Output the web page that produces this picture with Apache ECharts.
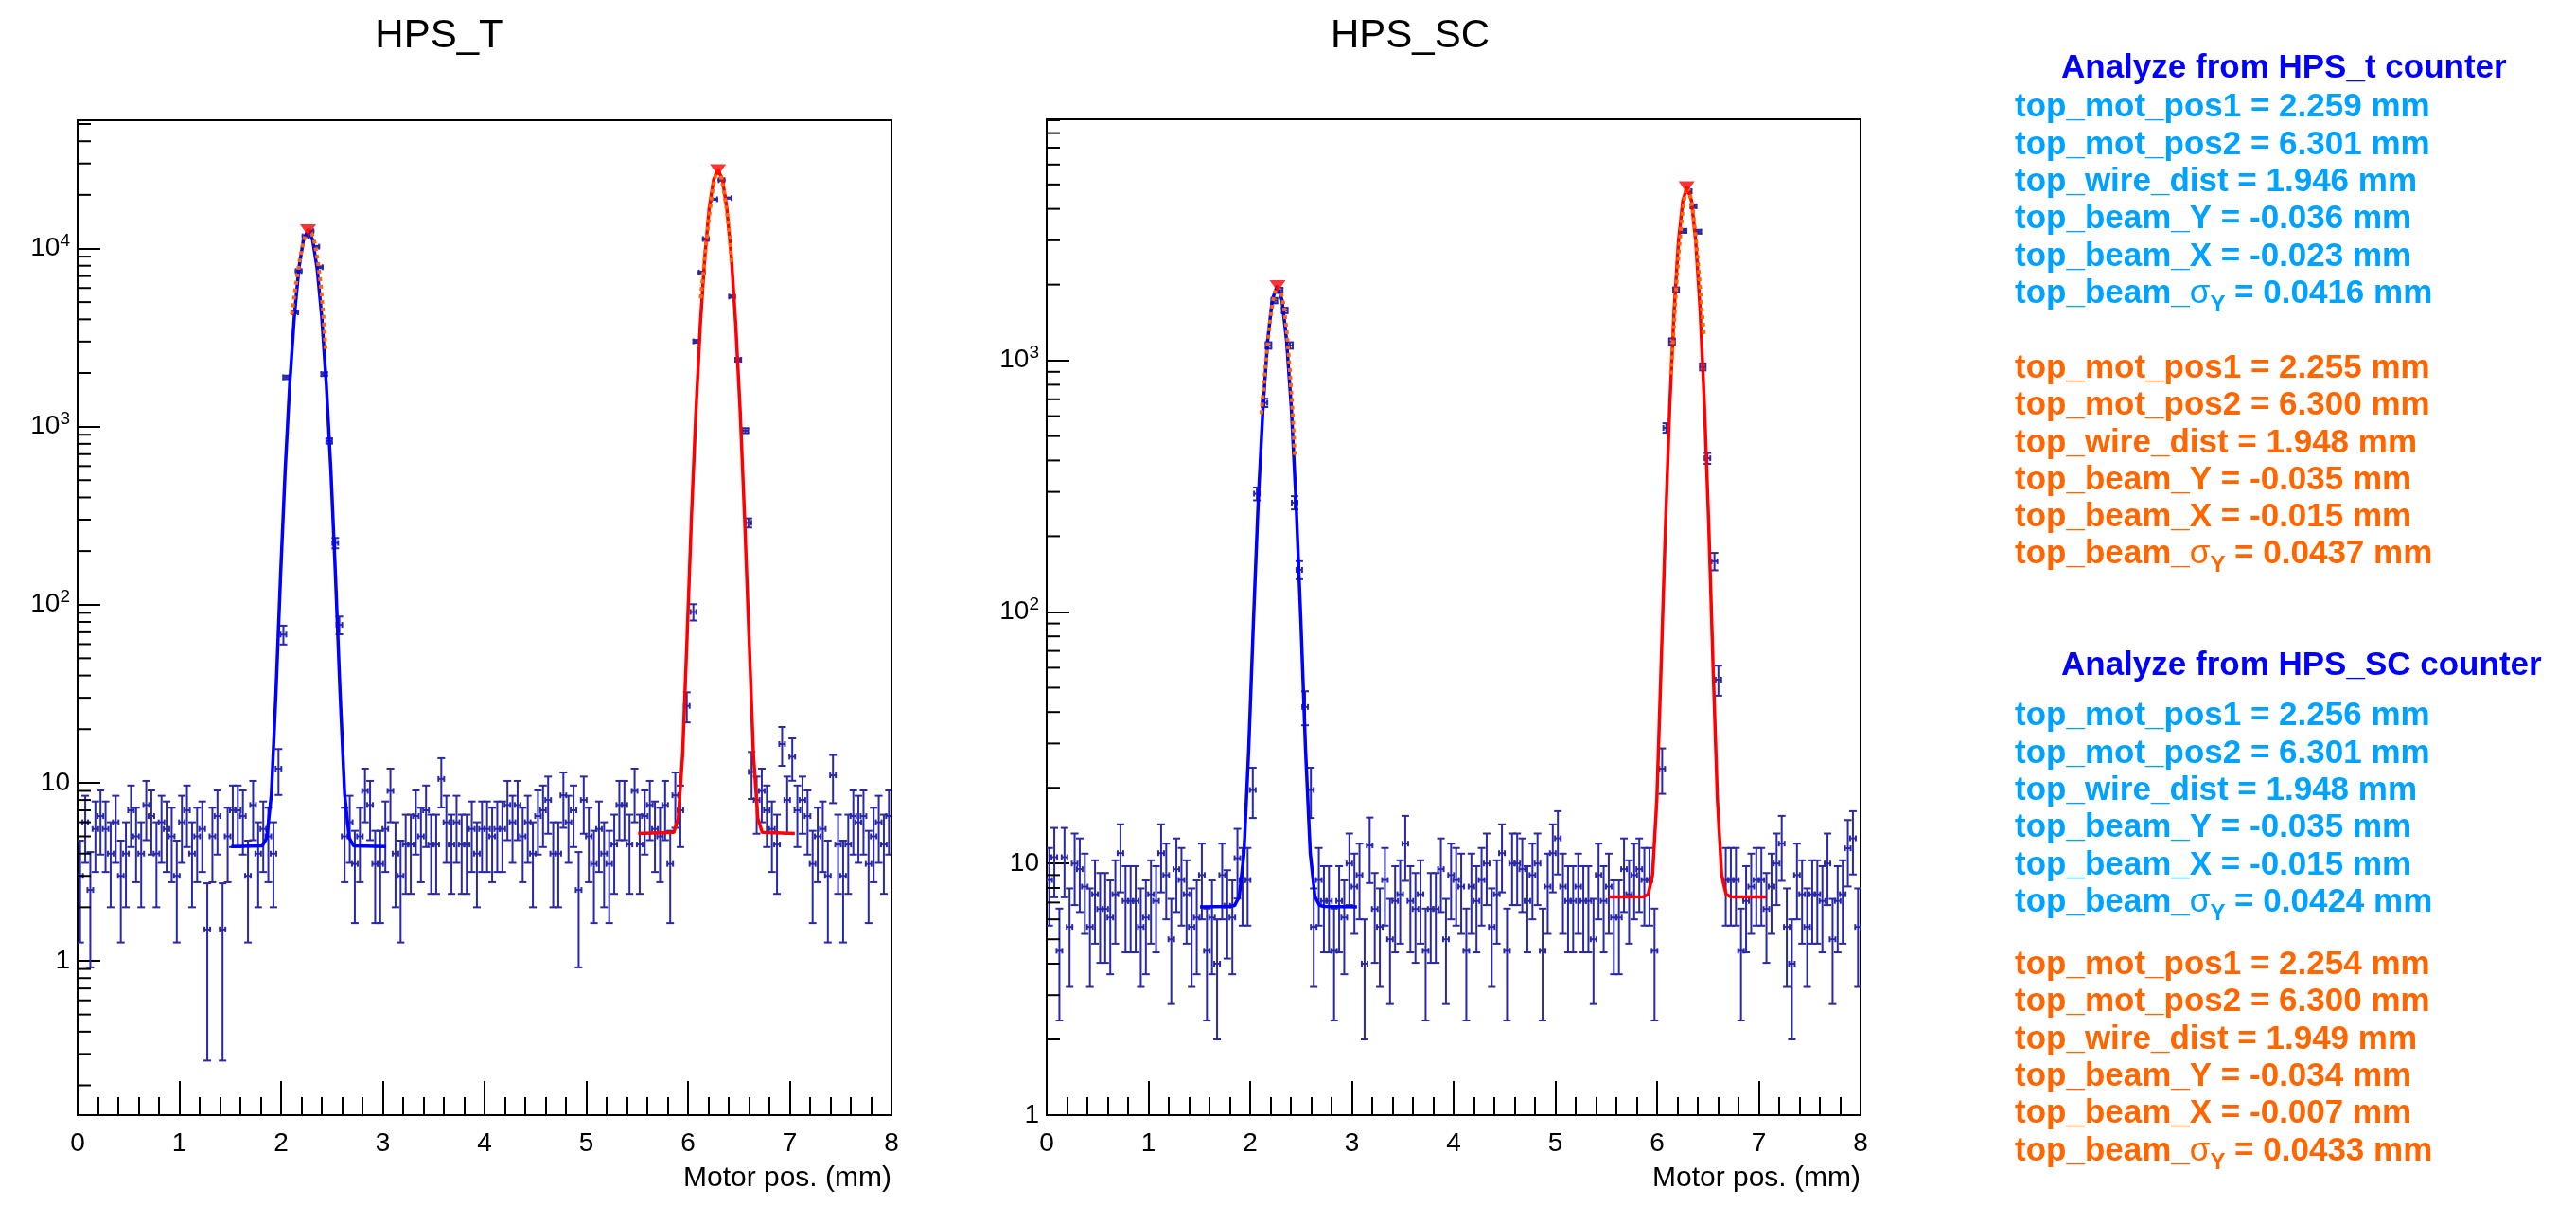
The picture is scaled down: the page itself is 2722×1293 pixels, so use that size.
<!DOCTYPE html>
<html>
<head>
<meta charset="utf-8">
<title>HPS wire scan</title>
<script src="https://cdn.jsdelivr.net/npm/echarts@6.0.0/dist/echarts.min.js"></script>
<style>
  html, body { margin: 0; padding: 0; background: #fff; }
  #main { width: 2722px; height: 1293px; }
</style>
</head>
<body>
<div id="main"></div>
<script>
// scan bins: centres start at 0.025 mm, 0.05 mm apart
const BIN0 = 0.025;
const BINW = 0.05;

// ---- HPS_T counter ----
// background bins (null where the peak points below take over)
const tCounts = [
  3, 6, 2.5, 5.5, 6.5, 5.5, 4, 6, 3, 4, 7, 5, 4, 7.5, 6.5, 4, 6, 5.5, 5, 3,
  6, 7, 4, 5, 5.5, 1.5, 5, 6.5, 1.5, 5, 7, 7, 6.5, 3, 7.5, 4, 5.5, 5, 4, 12,
  null, null, null, null, null, null, null, null, null, null, null, null,
  5, 6, 3.5, 5, 9, 7.5, 3.5, 3.5, 5.5, 9, 4, 3, 4.5, 4.5, 6.5, 5, 7, 4.5, 4.5, 10.5,
  6, 4.5, 6, 4.5, 4.5, 5.5, 4, 5.5, 5.5,
  5, 5.5, 5.5, 7.5, 6, 7.5, 5, 6, 4, 6.5, 7, 8, 4, 4, 8.5, 6, 7, 2.5, 8, 5,
  3.5, 5.5, 4, 3.5, 4.5, 7.5, 7.5, 4.5, 9, 4.5, 6.5, 7.5, 5.5, 5, 7.5, 3.5, 8.5, 7,
  null, null, null, null, null, null, null, null, null, null, null, null, null,
  11.5, 8, 9, 7, 5.5, 4.5, 16.5, 8, 14, 7, 8, 6.5, 3.5, 5, 5.5, 3, 11, 4.5, 3, 4.5,
  6.5, 6, 6.5, 3.5, 5, 6, 4.5, 6.5
];
const tPeakX = [2.023, 2.05, 2.14, 2.173, 2.24, 2.29, 2.346, 2.38, 2.424, 2.473, 2.533, 2.573,
                5.988, 6.053, 6.081, 6.134, 6.175, 6.259, 6.33, 6.40, 6.433, 6.494, 6.563, 6.594];
const tPeakY = [68, 1890, 4375, 7470, 11700, 12500, 10230, 7850, 1970, 830, 222, 77,
                27, 91, 3010, 7330, 11300, 18900, 24200, 19200, 5370, 2370, 949, 288];
// fitted curves
const tFit1X = [1.51, 1.815, 1.86, 1.905, 1.95, 1.995, 2.04, 2.085, 2.13, 2.175, 2.22, 2.265,
                2.31, 2.355, 2.40, 2.445, 2.49, 2.535, 2.58, 2.625, 2.67, 2.715, 3.03];
const tFit1Y = [4.39, 4.42, 4.9, 8.64, 32.2, 145, 562, 1722, 4127, 7705, 11209, 12700,
                11209, 7705, 4127, 1722, 562, 145, 32.2, 8.64, 4.9, 4.42, 4.39];
const tFit2X = [5.51, 5.86, 5.904, 5.947, 5.991, 6.034, 6.078, 6.121, 6.165, 6.208, 6.252, 6.295,
                6.339, 6.382, 6.426, 6.469, 6.513, 6.556, 6.60, 6.643, 6.687, 6.73, 7.05];
const tFit2Y = [5.18, 5.26, 6.29, 14.4, 65.6, 311, 1217, 3739, 8965, 16742, 24358, 27600,
                24358, 16742, 8965, 3739, 1217, 311, 65.6, 14.4, 6.29, 5.26, 5.18];
const tTop1X = [2.105, 2.13, 2.16, 2.19, 2.22, 2.25, 2.27, 2.30, 2.33, 2.36, 2.39, 2.42, 2.44];
const tTop1Y = [4250, 5400, 7100, 9000, 11000, 12300, 12700, 12200, 10800, 8600, 6300, 3900, 2650];
const tTop2X = [6.125, 6.15, 6.18, 6.21, 6.24, 6.27, 6.295, 6.32, 6.35, 6.38, 6.41, 6.43];
const tTop2Y = [5250, 7300, 10800, 15500, 21000, 25800, 27600, 26000, 21500, 16500, 11800, 8000];
const tMarkX = [2.265, 6.295];
const tMarkY = [12700, 27600];

// ---- HPS_SC counter ----
const scCounts = [
  8.6, 10.6, 4.5, 10.6, 5.6, 10, 9.5, 8.1, 5.6, 7.55, 6.6, 6.6, 6.1, 7.55, 11, 7.1, 7.1, 7.1, 5.6, 6.1,
  7.55, 7.1, 11, 9, 5, 9.5, 8.6, 7.55, 5.6, 6.1, 9, 4.5, 6.1, 4, 9, 6.8, 6.1, 10.5, 8.6, 8.6,
  null, null, null, null, null, null, null, null, null, null, null, null,
  5.6, 8.6, 7.1, 7.1, 4.5, 7.1, 6.1, 10, 8.1, 9, 4, 11.8, 6.6, 5.6, 8.6, 5, 7.1, 7.55, 12, 7.1,
  6.6, 7.55, 4.5, 6.6, 6.6, 9.5, 5, 9, 8.6, 8.1, 4.5, 8.1, 7.1, 8.6, 10, 5.6, 7.55, 11, 4.5, 10,
  10, 9.5, 7.1, 9, 10, 4.5, 8.1, 11, 12.6, 8.1, 7.1, 7.1, 8.1, 7.1, 7.1, 5, 9, 7.1, 8.1, 6.1,
  6.1, 9.5, 7.55, 9, 9.5, 8.6, 8.6, 4.5,
  null, null, null, null, null, null, null, null, null, null, null, null, null,
  8.6, 8.6, 8.6, 4.5, 7.1, 8.1, 8.6, 8.6, 6.6, 8.1, 10, 12, 5.6, 4, 9, 7.55, 5.6, 7.55, 7.55, 7.1,
  10, 5, 7.1, 7.55, 11.5, 12.6, 5.6
];
const scPeakX = [2.026, 2.066, 2.141, 2.18, 2.238, 2.29, 2.34, 2.391, 2.437, 2.483, 2.54, 2.597,
                 6.05, 6.09, 6.147, 6.187, 6.261, 6.31, 6.358, 6.404, 6.449, 6.495, 6.564, 6.603];
const scPeakY = [19.6, 295, 678, 1146, 1728, 1900, 1578, 1146, 272, 147, 41.9, 19.6,
                 23.8, 539, 1188, 1905, 3270, 4700, 4100, 3245, 942, 408, 159, 53.8];
const scFit1X = [1.507, 1.80, 1.846, 1.893, 1.939, 1.986, 2.033, 2.079, 2.126, 2.172, 2.218, 2.265,
                 2.312, 2.358, 2.405, 2.451, 2.498, 2.544, 2.591, 2.637, 2.684, 2.73, 3.05];
const scFit1Y = [6.73, 6.75, 6.81, 7.39, 11.0, 28.6, 93.2, 273, 646, 1201, 1745, 1977,
                 1745, 1201, 646, 273, 93.2, 28.6, 11.0, 7.39, 6.81, 6.75, 6.73];
const scFit2X = [5.53, 5.87, 5.913, 5.955, 5.998, 6.04, 6.083, 6.125, 6.168, 6.21, 6.253, 6.295,
                 6.338, 6.38, 6.423, 6.465, 6.508, 6.55, 6.593, 6.635, 6.678, 6.72, 7.07];
const scFit2Y = [7.36, 7.38, 7.56, 8.99, 18.05, 61.5, 221.6, 667.6, 1592, 2967, 4314, 4887,
                 4314, 2967, 1592, 667.6, 221.6, 61.5, 18.05, 8.99, 7.56, 7.38, 7.36];
const scTop1X = [2.11, 2.14, 2.17, 2.20, 2.23, 2.26, 2.275, 2.30, 2.33, 2.36, 2.39, 2.42, 2.44];
const scTop1Y = [612, 850, 1150, 1480, 1780, 1960, 1985, 1900, 1650, 1300, 920, 600, 410];
const scTop2X = [6.136, 6.16, 6.19, 6.22, 6.25, 6.28, 6.295, 6.32, 6.35, 6.38, 6.41, 6.44, 6.46];
const scTop2Y = [880, 1250, 2000, 2900, 3900, 4700, 4890, 4700, 4000, 3100, 2250, 1600, 1270];
const scMarkX = [2.27, 6.29];
const scMarkY = [1977, 4887];

// ---- text panel ----
const headT = 'Analyze from HPS_t counter';
const headSC = 'Analyze from HPS_SC counter';
const linesT1 = ['top_mot_pos1 = 2.259 mm', 'top_mot_pos2 = 6.301 mm', 'top_wire_dist = 1.946 mm',
                 'top_beam_Y = -0.036 mm', 'top_beam_X = -0.023 mm', 'top_beam_{sg|σ}{sb|Y} = 0.0416 mm'];
const linesT2 = ['top_mot_pos1 = 2.255 mm', 'top_mot_pos2 = 6.300 mm', 'top_wire_dist = 1.948 mm',
                 'top_beam_Y = -0.035 mm', 'top_beam_X = -0.015 mm', 'top_beam_{sg|σ}{sb|Y} = 0.0437 mm'];
const linesSC1 = ['top_mot_pos1 = 2.256 mm', 'top_mot_pos2 = 6.301 mm', 'top_wire_dist = 1.948 mm',
                  'top_beam_Y = -0.035 mm', 'top_beam_X = -0.015 mm', 'top_beam_{sg|σ}{sb|Y} = 0.0424 mm'];
const linesSC2 = ['top_mot_pos1 = 2.254 mm', 'top_mot_pos2 = 6.300 mm', 'top_wire_dist = 1.949 mm',
                  'top_beam_Y = -0.034 mm', 'top_beam_X = -0.007 mm', 'top_beam_{sg|σ}{sb|Y} = 0.0433 mm'];

const FONT = '"Liberation Sans", Arial, Helvetica, sans-serif';
const DOT = '#2828a8';
const LIGHT = '#00a2ff';
const ORANGE = '#ff6600';

function zip(xs, ys) {
  return xs.map((x, i) => [x, ys[i]]);
}

function scanPoints(counts, px, py) {
  const pts = [];
  counts.forEach((v, i) => {
    if (v != null) pts.push([BIN0 + BINW * i, v]);
  });
  return pts.concat(zip(px, py));
}

// error bars; the plot uses sqrt(N) errors
function renderErr(params, api) {
  const x = api.value(0), y = api.value(1);
  const e = Math.sqrt(y);
  const c = api.coord([x, y]);
  const hi = api.coord([x, y + e]);
  const lo = api.coord([x, Math.max(y - e, 1e-3)]);
  const st = { stroke: DOT, lineWidth: 2, fill: null };
  const seg = (x1, y1, x2, y2) => ({ type: 'line', shape: { x1, y1, x2, y2 }, style: st });
  return {
    type: 'group',
    children: [
      seg(c[0], hi[1], c[0], lo[1]),
      seg(c[0] - 4, hi[1], c[0] + 4, hi[1]),
      seg(c[0] - 4, lo[1], c[0] + 4, lo[1]),
      seg(c[0] - 3, c[1], c[0] + 3, c[1]),
      seg(c[0] - 3, c[1] - 3, c[0] - 3, c[1] + 3),
      seg(c[0] + 3, c[1] - 3, c[0] + 3, c[1] + 3)
    ]
  };
}

// ROOT style 2..9 minor ticks on the log axis
function minorTicks(lo, hi) {
  const out = [];
  for (let d = Math.floor(Math.log10(lo)); d <= Math.ceil(Math.log10(hi)); d++) {
    for (let m = 2; m <= 9; m++) {
      const v = m * Math.pow(10, d);
      if (v > lo && v < hi) out.push([0, v]);
    }
  }
  return out;
}

function renderMinor(params, api) {
  const p = api.coord([0, api.value(1)]);
  return { type: 'line', shape: { x1: p[0], y1: p[1], x2: p[0] + 14, y2: p[1] },
           style: { stroke: '#000', lineWidth: 2 } };
}

function logLabel(v) {
  const n = Math.round(Math.log10(v));
  if (n === 0) return '1';
  if (n === 1) return '10';
  return '{b|10}{s|' + n + '}';
}

function xAxisOf(idx) {
  return {
    type: 'value', gridIndex: idx, min: 0, max: 8, interval: 1,
    name: 'Motor pos. (mm)', nameLocation: 'end', nameGap: 0,
    nameTextStyle: { fontFamily: FONT, fontSize: 30, color: '#000', align: 'right',
                     verticalAlign: 'top', padding: [52, 0, 0, 0] },
    axisLine: { lineStyle: { color: '#000', width: 2 } },
    axisTick: { inside: true, length: 36, lineStyle: { color: '#000', width: 2 } },
    minorTick: { show: true, splitNumber: 5, length: 19, lineStyle: { color: '#000', width: 2 } },
    splitLine: { show: false },
    axisLabel: { fontFamily: FONT, fontSize: 28, color: '#000', margin: 16 }
  };
}

function yAxisOf(idx, lo, hi, showMin) {
  return {
    type: 'log', logBase: 10, gridIndex: idx, min: lo, max: hi,
    axisLine: { lineStyle: { color: '#000', width: 2 } },
    axisTick: { inside: true, length: 24, lineStyle: { color: '#000', width: 2 } },
    splitLine: { show: false },
    axisLabel: {
      fontFamily: FONT, fontSize: 28, color: '#000', margin: 8,
      showMinLabel: showMin, showMaxLabel: false,
      formatter: logLabel,
      rich: {
        b: { fontFamily: FONT, fontSize: 28, color: '#000' },
        s: { fontFamily: FONT, fontSize: 19, color: '#000', padding: [0, 0, 16, 0] }
      }
    }
  };
}

function panelSeries(idx, counts, px, py, fit1, fit2, top1, top2, mark, lo, hi) {
  return [
    { type: 'custom', xAxisIndex: idx, yAxisIndex: idx, clip: true, silent: true,
      data: minorTicks(lo, hi), renderItem: renderMinor, z: 5 },
    { type: 'custom', xAxisIndex: idx, yAxisIndex: idx, clip: true, silent: true,
      data: scanPoints(counts, px, py), renderItem: renderErr, z: 2 },
    { type: 'line', xAxisIndex: idx, yAxisIndex: idx, data: fit1, showSymbol: false,
      lineStyle: { color: '#0000ff', width: 3.5 }, z: 3 },
    { type: 'line', xAxisIndex: idx, yAxisIndex: idx, data: fit2, showSymbol: false,
      lineStyle: { color: '#ff0000', width: 3.5 }, z: 3 },
    { type: 'line', xAxisIndex: idx, yAxisIndex: idx, data: top1, showSymbol: false,
      lineStyle: { color: ORANGE, width: 4, type: [4, 4] }, z: 4 },
    { type: 'line', xAxisIndex: idx, yAxisIndex: idx, data: top2, showSymbol: false,
      lineStyle: { color: ORANGE, width: 4, type: [4, 4] }, z: 4 },
    { type: 'scatter', xAxisIndex: idx, yAxisIndex: idx, data: mark, symbol: 'triangle',
      symbolRotate: 180, symbolSize: [17, 12], itemStyle: { color: '#ff0000' }, z: 6 }
  ];
}

// text block: lines placed by baseline
const TXT = 35;
function textLine(x, base, text, color) {
  return {
    type: 'text', x: x, y: base - 0.32 * TXT, silent: true,
    style: {
      text: text, fill: color, font: 'bold ' + TXT + 'px ' + FONT,
      fontFamily: FONT, fontSize: TXT, fontWeight: 'bold',
      align: 'left', verticalAlign: 'middle', textAlign: 'left', textVerticalAlign: 'middle',
      rich: {
        sg: { fontFamily: FONT, fontSize: TXT, fontWeight: 'normal', fill: color, color: color },
        sb: { fontFamily: FONT, fontSize: 24, fontWeight: 'bold', fill: color, color: color,
              padding: [24, 0, 0, 0] }
      }
    }
  };
}

function textBlock(headBase, lightBase, orangeBase, head, light, orange) {
  const step = 39.3;
  const els = [textLine(2178, headBase, head, '#0000ff')];
  light.forEach((s, i) => els.push(textLine(2129, lightBase + i * step, s, LIGHT)));
  orange.forEach((s, i) => els.push(textLine(2129, orangeBase + i * step, s, ORANGE)));
  return els;
}

function plotTitle(cx, text) {
  return {
    type: 'text', x: cx, y: 52 - 0.32 * 42, silent: true,
    style: { text: text, fill: '#000', font: '42px ' + FONT, fontFamily: FONT, fontSize: 42,
             align: 'center', verticalAlign: 'middle', textAlign: 'center', textVerticalAlign: 'middle' }
  };
}

const T_LO = 0.136, T_HI = 52500;
const SC_LO = 1, SC_HI = 9080;

const chart = echarts.init(document.getElementById('main'), null, { renderer: 'canvas' });
chart.setOption({
  animation: false,
  backgroundColor: '#fff',
  grid: [
    { left: 82, top: 127, width: 860, height: 1051, show: true, borderColor: '#000', borderWidth: 2,
      backgroundColor: 'transparent', containLabel: false },
    { left: 1106, top: 126, width: 860, height: 1052, show: true, borderColor: '#000', borderWidth: 2,
      backgroundColor: 'transparent', containLabel: false }
  ],
  xAxis: [xAxisOf(0), xAxisOf(1)],
  yAxis: [yAxisOf(0, T_LO, T_HI, false), yAxisOf(1, SC_LO, SC_HI, true)],
  series: [].concat(
    panelSeries(0, tCounts, tPeakX, tPeakY, zip(tFit1X, tFit1Y), zip(tFit2X, tFit2Y),
                zip(tTop1X, tTop1Y), zip(tTop2X, tTop2Y), zip(tMarkX, tMarkY), T_LO, T_HI),
    panelSeries(1, scCounts, scPeakX, scPeakY, zip(scFit1X, scFit1Y), zip(scFit2X, scFit2Y),
                zip(scTop1X, scTop1Y), zip(scTop2X, scTop2Y), zip(scMarkX, scMarkY), SC_LO, SC_HI)
  ),
  graphic: [].concat(
    [plotTitle(464, 'HPS_T'), plotTitle(1490, 'HPS_SC')],
    textBlock(84, 125, 400.5, headT, linesT1, linesT2),
    textBlock(715, 768, 1030.7, headSC, linesSC1, linesSC2)
  )
});
</script>
</body>
</html>
